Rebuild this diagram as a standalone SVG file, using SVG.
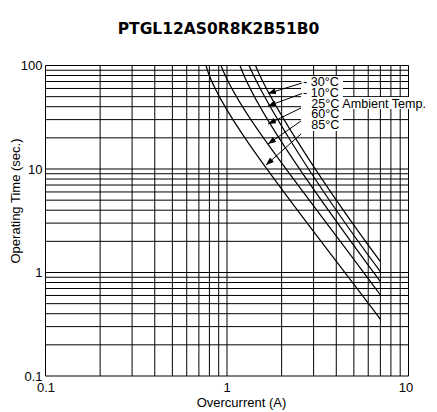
<svg xmlns="http://www.w3.org/2000/svg" width="437" height="412" viewBox="0 0 437 412">
<style>
.g{stroke:#000;stroke-width:1;fill:none}
.c{stroke:#000;stroke-width:1.2;fill:none}
.a{stroke:#000;stroke-width:1;fill:none;marker-end:url(#ah)}
.t{font-family:"Liberation Sans",Arial,sans-serif;font-size:13px;fill:#000}
.l{font-family:"Liberation Sans",Arial,sans-serif;font-size:12.6px;fill:#000}
.ti{font-family:"DejaVu Sans",Verdana,sans-serif;font-size:15.5px;font-weight:bold;fill:#000}
</style>
<defs>
<marker id="ah" markerUnits="userSpaceOnUse" markerWidth="9" markerHeight="6" refX="8" refY="3" orient="auto">
<path d="M0,0 L8,3 L0,6 z" fill="#000"/>
</marker>
</defs>
<rect width="437" height="412" fill="#fff"/>
<text class="ti" x="218.5" y="33.5" text-anchor="middle">PTGL12AS0R8K2B51B0</text>
<g id="grid">
<path class="g" d="M45.5,65.5V376M100.14,65.5V376M132.1,65.5V376M154.77,65.5V376M172.36,65.5V376M186.73,65.5V376M198.89,65.5V376M209.41,65.5V376M218.69,65.5V376M227,65.5V376M281.64,65.5V376M313.6,65.5V376M336.27,65.5V376M353.86,65.5V376M368.23,65.5V376M380.39,65.5V376M390.91,65.5V376M400.19,65.5V376M408.5,65.5V376"/>
<path class="g" d="M45.5,376H408.5M45.5,344.84H408.5M45.5,326.62H408.5M45.5,313.69H408.5M45.5,303.66H408.5M45.5,295.46H408.5M45.5,288.53H408.5M45.5,282.53H408.5M45.5,277.24H408.5M45.5,272.5H408.5M45.5,241.34H408.5M45.5,223.12H408.5M45.5,210.19H408.5M45.5,200.16H408.5M45.5,191.96H408.5M45.5,185.03H408.5M45.5,179.03H408.5M45.5,173.74H408.5M45.5,169H408.5M45.5,137.84H408.5M45.5,119.62H408.5M45.5,106.69H408.5M45.5,96.66H408.5M45.5,88.46H408.5M45.5,81.53H408.5M45.5,75.53H408.5M45.5,70.24H408.5M45.5,65.5H408.5"/>
</g>
<g id="axes" class="t">
<text x="42.5" y="70" text-anchor="end">100</text>
<text x="42.5" y="173.5" text-anchor="end">10</text>
<text x="42.5" y="277" text-anchor="end">1</text>
<text x="42.5" y="380.5" text-anchor="end">0.1</text>
<text x="46" y="391.5" text-anchor="middle">0.1</text>
<text x="227" y="391.5" text-anchor="middle">1</text>
<text x="406" y="391.5" text-anchor="middle">10</text>
<text x="241.5" y="406.5" text-anchor="middle">Overcurrent (A)</text>
<text transform="translate(20,201) rotate(-90)" text-anchor="middle">Operating Time (sec.)</text>
</g>
<g id="curves">
<path id="c85" class="c" d="M206,65.5C218,112 294,205 380.4,319.3"/>
<path id="c60" class="c" d="M221,65.5C239,113 295.4,180 380.4,295"/>
<path id="c25" class="c" d="M240,65.5C254,105 300.4,173.7 380.4,281.7"/>
<path id="c10" class="c" d="M249,65.5C263,97.5 305.4,170.7 380.4,271.7"/>
<path id="cm30" class="c" d="M255.5,65.5C267.5,95.5 310.4,167.2 380.4,261.7"/>
</g>
<g id="labels">
<rect x="301" y="76" width="42" height="55" fill="#fff"/>
<rect x="343" y="97" width="89" height="12" fill="#fff"/>
<text class="l" x="303" y="86.3">- 30°C</text>
<text class="l" x="303" y="97.1">- 10°C</text>
<text class="l" x="311.3" y="107.5">25°C Ambient Temp.</text>
<text class="l" x="311.3" y="118.2">60°C</text>
<text class="l" x="311.3" y="129">85°C</text>
</g>
<g id="connectors">
<path class="a" d="M302,83L268,93.5"/>
<path class="a" d="M302,93.5L268,106"/>
<path class="a" d="M301,108L268,124"/>
<path class="a" d="M301,121L268,144"/>
<path class="a" d="M301,134L266,165"/>
</g>
</svg>
